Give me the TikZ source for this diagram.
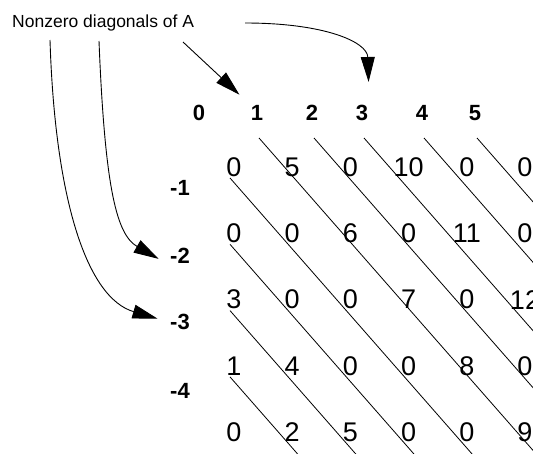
\documentclass[tikz,border=0pt]{standalone}
\usepackage{fontspec}
\setmainfont{Liberation Sans}
\usetikzlibrary{arrows.meta, calc}
\tikzset{
  entry/.style={
    inner sep=0pt,
    font=\fontsize{27}{27}\selectfont
  },
  idxlabel/.style={
    inner sep=1pt,
    font=\fontsize{22}{22}\selectfont\bfseries
  },
  titletext/.style={
    inner sep=0pt,
    anchor=base west,
    font=\fontsize{17.5}{20}\selectfont
  },
  pointer/.style={
    -{Triangle[length=25pt,width=14pt]},
    line width=0.9pt,
    draw=black
  },
  diagline/.style={
    line width=0.8pt,
    draw=black
  }
}

\begin{document}
\begin{tikzpicture}[x=1pt, y=-1pt]
  \useasboundingbox (0,0) rectangle (533,453);
  \node[titletext] (title) at (12,27) {Nonzero diagonals of A};

  % diagonal numbers
  \foreach \k/\x in {0/199, 1/257, 2/312, 3/362, 4/422, 5/475}
    \node[idxlabel] (hd\k) at (\x,113) {\k};
  \foreach \k/\y in {1/188, 2/256, 3/322, 4/391}
    \node[idxlabel] (dneg\k) at (180,\y) {-\k};

  % the matrix A
  \foreach \row [count=\r] in {{0,5,0,10,0,0},{0,0,6,0,11,0},{3,0,0,7,0,12},{1,4,0,0,8,0},{0,2,5,0,0,9}}
    \foreach \val [count=\c] in \row
      \node[entry] (e-\r-\c) at ({175.8+58.2*\c}, {100.7+66.3*\r}) {\val};

  \begin{scope}
    \clip (0,0) rectangle (533,453);
    \foreach \k in {1,...,5}
      \draw[diagline] ($(hd\k)+(2,25)$) -- ++(307,350);
    \foreach \r in {1,...,4}
      \draw[diagline] ($(e-\r-1)+(-4,11)$) -- ++(307,350);
  \end{scope}

  \coordinate (taila) at (50,40);
  \coordinate (tailb) at (99,41);
  \coordinate (tailc) at (183,42);
  \coordinate (taild) at (245,23);

  \draw[pointer, shorten >=12pt] (taila) .. controls +(5,160) and +(-82,-24) .. (dneg3.west);
  \draw[pointer, shorten >=12pt] (tailb) .. controls +(6,150) and +(-52,-30) .. (dneg2.south west);
  \draw[pointer, shorten >=14pt] (tailc) -- (hd1.north west);
  \draw[pointer, shorten >=22pt] (taild) .. controls +(80,0) and +(-2,-62) .. (hd3.north east);
\end{tikzpicture}
\end{document}
